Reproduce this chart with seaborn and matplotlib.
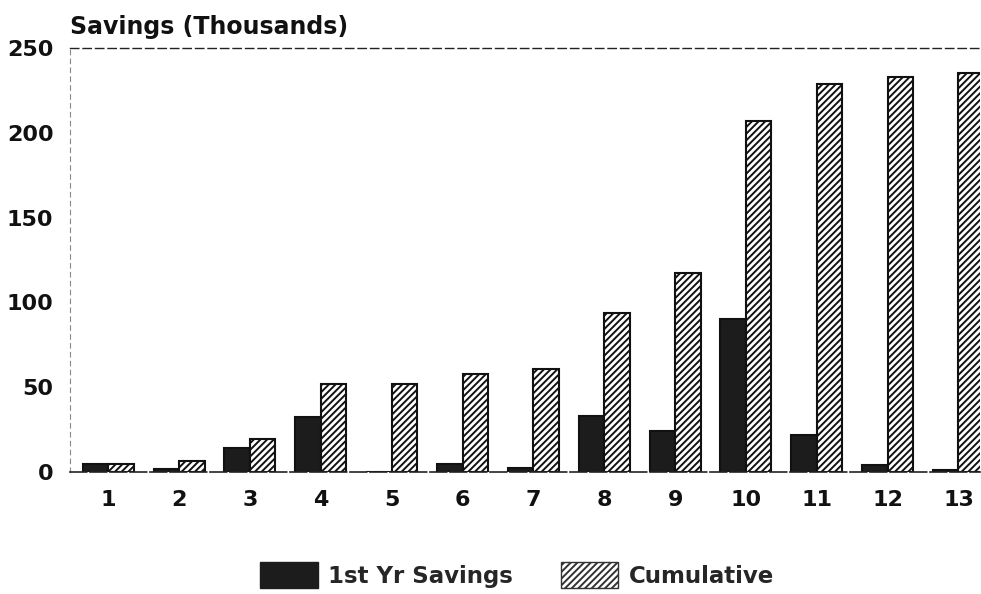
import matplotlib
matplotlib.use("Agg")
import matplotlib.pyplot as plt
import seaborn as sns
import pandas as pd
from matplotlib.patches import Patch

years = ["1", "2", "3", "4", "5", "6", "7", "8", "9", "10", "11", "12", "13"]
first_year_savings = [5, 2, 14, 32.5, 0, 5, 2.5, 33, 24, 90, 22, 4, 1]
cumulative = [5, 6.5, 19.5, 52, 52, 58, 61, 94, 117.5, 207, 229, 233, 235]
y_ticks = [0, 50, 100, 150, 200, 250]
series_names = ["1st Yr Savings", "Cumulative"]

df = pd.DataFrame({
    "Year": years * 2,
    "Savings": first_year_savings + cumulative,
    "Series": [series_names[0]] * len(years) + [series_names[1]] * len(years),
})

sns.set_theme(style="white")
plt.rcParams["font.family"] = ["DejaVu Sans"]
plt.rcParams["font.weight"] = "bold"
plt.rcParams["hatch.linewidth"] = 1.4

fig = plt.figure(figsize=(9.81, 5.94), dpi=100)
ax = fig.add_axes([0.0714, 0.2054, 0.928, 0.7138])

sns.barplot(data=df, x="Year", y="Savings", hue="Series", order=years,
            hue_order=series_names, palette=["#1c1c1c", "white"],
            width=0.72, saturation=1, edgecolor="#111111", linewidth=1.5,
            legend=False, ax=ax)

# hatch the cumulative bars
for bar in ax.patches[len(years):2 * len(years)]:
    bar.set_hatch("/////")

ax.set_xlim(-0.54, 12.31)
ax.set_ylim(0, 250)
ax.set_yticks(y_ticks)
ax.set_xlabel("")
ax.set_ylabel("")
ax.tick_params(axis="y", labelsize=16, colors="#111111", length=4, width=0.8,
               direction="in", pad=12, color="#888888")
ax.tick_params(axis="x", labelsize=16, colors="#111111", length=0, pad=13)
for lab in ax.get_xticklabels() + ax.get_yticklabels():
    lab.set_fontweight("bold")

ax.spines["right"].set_visible(False)
ax.spines["top"].set_linestyle((0, (6, 3)))
ax.spines["top"].set_color("#222222")
ax.spines["top"].set_linewidth(1.0)
ax.spines["left"].set_linestyle((0, (4, 4)))
ax.spines["left"].set_color("#888888")
ax.spines["left"].set_linewidth(0.8)
ax.spines["bottom"].set_linestyle((0, (10, 2)))
ax.spines["bottom"].set_color("#222222")
ax.spines["bottom"].set_linewidth(1.2)

fig.text(0.0714, 0.955, "Savings (Thousands)", fontsize=17, fontweight="bold",
         color="#111111", ha="left", va="center")

handles = [Patch(facecolor="#1c1c1c", edgecolor="#1c1c1c"),
           Patch(facecolor="white", edgecolor="#333333", hatch="/////")]
fig.legend(handles, series_names, loc="center", bbox_to_anchor=(0.527, 0.032),
           ncol=2, frameon=False, fontsize=16.5, handlelength=2.5, handleheight=1.35,
           columnspacing=2.1, handletextpad=0.45, borderpad=0)

fig.savefig("out.png", dpi=100)
